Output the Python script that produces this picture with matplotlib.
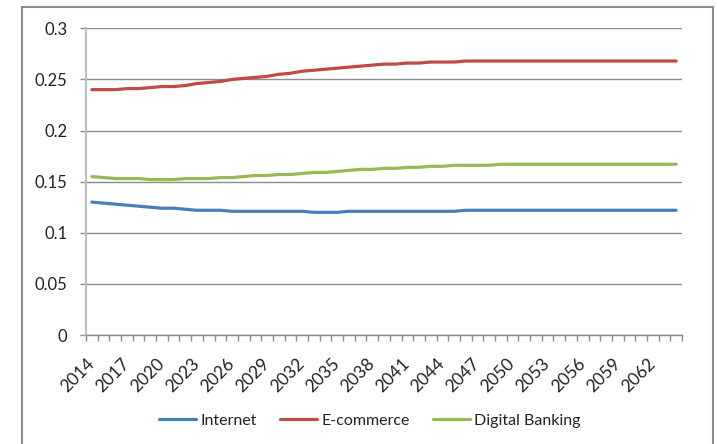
import numpy as np
import matplotlib
matplotlib.use('Agg')
import matplotlib.pyplot as plt
from matplotlib.patches import Rectangle

years = list(range(2014, 2065))

internet = [0.130, 0.129, 0.128, 0.127, 0.126, 0.125, 0.124, 0.124, 0.123, 0.122,
            0.122, 0.122, 0.121, 0.121, 0.121, 0.121, 0.121, 0.121, 0.121, 0.120,
            0.120, 0.120, 0.121, 0.121, 0.121, 0.121, 0.121, 0.121, 0.121, 0.121,
            0.121, 0.121, 0.122, 0.122, 0.122, 0.122, 0.122, 0.122, 0.122, 0.122,
            0.122, 0.122, 0.122, 0.122, 0.122, 0.122, 0.122, 0.122, 0.122, 0.122,
            0.122]

ecommerce = [0.240, 0.240, 0.240, 0.241, 0.241, 0.242, 0.243, 0.243, 0.244, 0.246,
             0.247, 0.248, 0.250, 0.251, 0.252, 0.253, 0.255, 0.256, 0.258, 0.259,
             0.260, 0.261, 0.262, 0.263, 0.264, 0.265, 0.265, 0.266, 0.266, 0.267,
             0.267, 0.267, 0.268, 0.268, 0.268, 0.268, 0.268, 0.268, 0.268, 0.268,
             0.268, 0.268, 0.268, 0.268, 0.268, 0.268, 0.268, 0.268, 0.268, 0.268,
             0.268]

banking = [0.155, 0.154, 0.153, 0.153, 0.153, 0.152, 0.152, 0.152, 0.153, 0.153,
           0.153, 0.154, 0.154, 0.155, 0.156, 0.156, 0.157, 0.157, 0.158, 0.159,
           0.159, 0.160, 0.161, 0.162, 0.162, 0.163, 0.163, 0.164, 0.164, 0.165,
           0.165, 0.166, 0.166, 0.166, 0.166, 0.167, 0.167, 0.167, 0.167, 0.167,
           0.167, 0.167, 0.167, 0.167, 0.167, 0.167, 0.167, 0.167, 0.167, 0.167,
           0.167]

series = [('Internet', internet, '#4a7ebb'),
          ('E-commerce', ecommerce, '#be4b48'),
          ('Digital Banking', banking, '#98b954')]

plt.rcParams['font.family'] = ['Lato', 'DejaVu Sans']

W, H = 717, 444
fig = plt.figure(figsize=(W / 100, H / 100), dpi=100)

# outer chart frame
fig.patches.append(Rectangle((22 / W, -0.05), 691 / W, (H - 7) / H + 0.05,
                             transform=fig.transFigure, fill=False,
                             edgecolor='#8c8c8c', linewidth=1.5))

ax = fig.add_axes([86 / W, 1 - 335 / H, 596 / W, (335 - 28.3) / H])
x = np.arange(len(years))
for name, vals, col in series:
    ax.plot(x, vals, color=col, linewidth=2.3, label=name, solid_capstyle='round')

ax.set_xlim(-0.5, len(years) - 0.5)
ax.set_ylim(0, 0.3)
ax.set_yticks(np.arange(0, 0.31, 0.05))
ax.set_yticklabels(['0', '0.05', '0.1', '0.15', '0.2', '0.25', '0.3'])
ax.yaxis.grid(True, color='#8c8c8c', linewidth=1)
ax.set_axisbelow(True)

ax.set_xticks(x[::3])
ax.set_xticklabels([str(y) for y in years[::3]], rotation=45, ha='right',
                   va='center', rotation_mode='anchor')
ax.set_xticks(np.arange(-0.5, len(years), 1), minor=True)
ax.tick_params(axis='x', which='major', length=0, pad=19, labelsize=12.5,
               labelcolor='#222222')
ax.tick_params(axis='x', which='minor', length=4.3, color='#8c8c8c', width=1)
ax.tick_params(axis='y', length=4.3, color='#8c8c8c', width=1, pad=9,
               labelsize=12, labelcolor='#222222')

for s in ['top', 'right']:
    ax.spines[s].set_visible(False)
ax.spines['left'].set_color('#bfbfbf')
ax.spines['left'].set_linewidth(1.5)
ax.spines['bottom'].set_color('#8c8c8c')
ax.spines['bottom'].set_linewidth(1)

fig.legend(loc='center', bbox_to_anchor=(370 / W, (H - 420.7) / H), ncol=3,
           frameon=False, fontsize=11.5, handlelength=2.3, handletextpad=0.25,
           columnspacing=1.5, labelcolor='#222222')

fig.savefig('out.png', dpi=100)
